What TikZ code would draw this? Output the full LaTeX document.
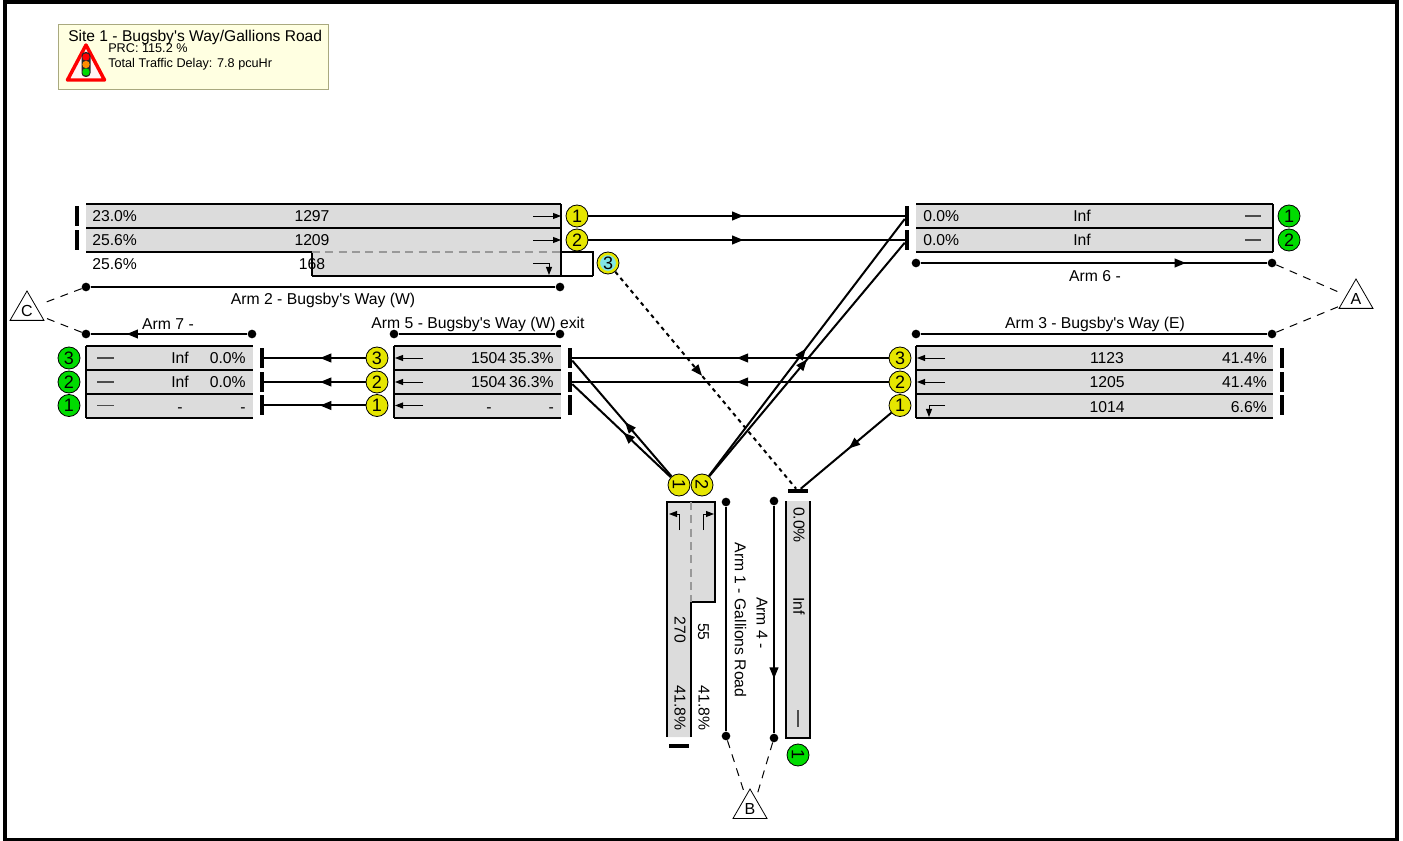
\documentclass[tikz,border=0pt]{standalone}
\usepackage{fontspec}
\setmainfont{Liberation Sans}
\usetikzlibrary{arrows.meta,shapes.geometric,decorations.markings}
\definecolor{lanegray}{HTML}{DCDCDC}
\definecolor{sigyellow}{HTML}{E6E600}
\definecolor{siggreen}{HTML}{00DC00}
\definecolor{sigcyan}{HTML}{80E6E6}
\definecolor{infofill}{HTML}{FFFFE1}
\definecolor{infoedge}{HTML}{A9A97F}
\newcommand{\qt}{\textquotesingle}
\tikzset{
	txt/.style={inner sep=0pt,font=\fontsize{11.8}{12}\selectfont},
	sig/.style={circle,draw=black,line width=.6pt,minimum size=16.5pt,inner sep=0pt,font=\fontsize{13.5}{14}\selectfont},
	sigy/.style={sig,fill=sigyellow},
	sigg/.style={sig,fill=siggreen},
	hbar/.style={fill=black,minimum width=3pt,minimum height=15pt,inner sep=0pt},
	vbar/.style={fill=black,minimum width=15pt,minimum height=3pt,inner sep=0pt},
	dot/.style={circle,fill=black,minimum size=6.5pt,inner sep=0pt},
	armline/.style={line width=1.5pt},
	flow/.style={line width=1.5pt},
	link/.style={line width=.75pt,dash pattern=on 6pt off 5pt},
	tri/.style={regular polygon,regular polygon sides=3,draw=black,line width=.6pt,fill=white,minimum size=29.4pt,inner sep=0pt,font=\fontsize{12}{12}\selectfont},
	lanedge/.style={line width=1.2pt},
	turn/.style={line width=.7pt,-{Triangle[length=6pt,width=4.5pt]}},
	lanedash/.style={line width=.8pt,black!70},
	midarr/.style={postaction={decorate},decoration={markings,mark=at position #1 with {\arrow{Triangle[length=8.5pt,width=6.5pt]}}}}
}
\begin{document}
\begin{tikzpicture}[x=.75pt,y=-.75pt]
	\useasboundingbox (0,0) rectangle (1403,841);
	\draw[line width=3pt] (5,2) rectangle (1396.5,839.5);

	% site box
	\draw[fill=infofill,draw=infoedge,line width=.7pt] (58,24) rectangle (328,89);
	\node[txt,anchor=base west,font=\fontsize{11.7}{12}\selectfont] (title) at (68,41.5) {Site 1 - Bugsby\qt s Way/Gallions Road};
	\node[txt,anchor=base west,font=\fontsize{9.5}{10}\selectfont] (prc) at (108,53) {PRC: 115.2 \%};
	\node[txt,anchor=base west,font=\fontsize{9.5}{10}\selectfont] (delay) at (108,68) {Total Traffic Delay: 7.8 pcuHr};
	\draw[red,line width=2.6pt,line join=round,fill=white!96!red] (86,45) -- (104.5,80) -- (67.5,80) -- cycle;
	\fill[black!85,rounded corners=3pt] (81.5,52) rectangle (90.5,77);
	\fill[red] (86,57) circle (3.7);
	\fill[orange!90!yellow] (86,64.5) circle (3.7);
	\fill[green!85!black] (86,72) circle (3.7);

	% lane fills
	\foreach \xa/\ya/\xb/\yb in {86/204/561/252,312/252/561/276,916/204/1273/252,86/346/253/418,394/346/561/418,916/346/1273/418}
		\fill[lanegray] (\xa,\ya) rectangle (\xb,\yb);
	\foreach \xa/\ya/\xb in {86/204/561,86/228/561,86/252/312,916/204/1273,916/228/1273,916/252/1273,86/346/253,86/370/253,86/394/253,86/418/253,394/346/561,394/370/561,394/394/561,394/418/561,916/346/1273,916/370/1273,916/394/1273,916/418/1273,312/276/593}
		\draw[lanedge] (\xa,\ya) -- (\xb,\ya);
	\draw[line width=.8pt] (312,252) -- (312,276);
	\draw[line width=.8pt] (561,252) -- (593,252) -- (593,276);
	\draw[line width=.8pt] (561,204) -- (561,276);
	\draw[line width=.8pt] (1273,204) -- (1273,252);
	\draw[line width=.8pt] (86,346) -- (86,418);
	\draw[line width=.8pt] (394,346) -- (394,418);
	\draw[line width=.8pt] (916,346) -- (916,418);
	\draw[line width=.8pt,black!40,dash pattern=on 6pt off 4pt] (312,252) -- (561,252);

	% arm 1 and arm 4 lanes
	\fill[lanegray] (667,502) -- (715,502) -- (715,602) -- (691,602) -- (691,737) -- (667,737) -- cycle;
	\draw[lanedge] (667,737) -- (667,502) -- (715,502) -- (715,602) -- (691,602) -- (691,737);
	\draw[line width=.8pt,black!40,dash pattern=on 6pt off 4pt] (691,502) -- (691,602);
	\fill[lanegray] (786,501) rectangle (810,738);
	\draw[lanedge] (786,501) -- (786,738) -- (810,738) -- (810,501);

	% stop lines
	\node[hbar] (b21) at (77,216) {};
	\node[hbar] (b22) at (77,240) {};
	\node[hbar] (b61) at (907,216) {};
	\node[hbar] (b62) at (907,240) {};
	\foreach \n/\y in {3/358,2/382,1/405.5} {
		\node[hbar] (b7\n) at (262,\y) {};
		\node[hbar] (b5\n) at (570,\y) {};
		\node[hbar] (b3\n) at (1282,\y) {};
	}
	\node[vbar] (b11) at (679,746) {};
	\node[vbar] (b41) at (798,491) {};

	% signal numbers
	\node[sigy] (s21) at (577,216) {1};
	\node[sigy] (s22) at (577,240) {2};
	\node[sigy] (s23) at (608,263) {};
	\node[sig,fill=sigcyan,draw=sigyellow,line width=1.5pt,minimum size=13.5pt] (s23c) at (608,263) {3};
	\node[sigg] (s61) at (1289,216) {1};
	\node[sigg] (s62) at (1289,240) {2};
	\foreach \n/\y in {3/358,2/382,1/405.5} {
		\node[sigg] (s7\n) at (69,\y) {\n};
		\node[sigy] (s5\n) at (377,\y) {\n};
		\node[sigy] (s3\n) at (900,\y) {\n};
	}
	\node[sigy,rotate=-90] (s11) at (679,485) {1};
	\node[sigy,rotate=-90] (s12) at (702,485) {2};
	\node[sigg,rotate=-90] (s41) at (798,755) {1};

	% flows
	\draw[flow,midarr=.49] (s21) -- (b61);
	\draw[flow,midarr=.49] (s22) -- (b62);
	\draw[flow,midarr=.48] (s33) -- (b53);
	\draw[flow,midarr=.48] (s32) -- (b52);
	\draw[flow,midarr=.47] (s31) -- (b41);
	\draw[flow,midarr=.45] (s53) -- (b73);
	\draw[flow,midarr=.45] (s52) -- (b72);
	\draw[flow,midarr=.45] (s51) -- (b71);
	\draw[flow,midarr=.47] (s11) -- (b53);
	\draw[flow,midarr=.48] (s11) -- (b52);
	\draw[flow,midarr=.495] (s12) -- (b61);
	\draw[flow,midarr=.5] (s12) -- (b62);
	\draw[flow,dash pattern=on 3pt off 3pt,midarr=.48] (s23) -- (b41);

	% arm lines
	\node[dot] (a2l) at (86,287) {};
	\node[dot] (a2r) at (560,287) {};
	\node[dot] (a7l) at (86,334) {};
	\node[dot] (a7r) at (252,334) {};
	\node[dot] (a5l) at (394,334) {};
	\node[dot] (a5r) at (560,334) {};
	\node[dot] (a3l) at (916,334) {};
	\node[dot] (a3r) at (1272,334) {};
	\node[dot] (a6l) at (916,263) {};
	\node[dot] (a6r) at (1272,263) {};
	\node[dot] (a1t) at (726,502) {};
	\node[dot] (a1b) at (726,736) {};
	\node[dot] (a4t) at (774,501) {};
	\node[dot] (a4b) at (774,738) {};
	\draw[armline] (a2l) -- (a2r);
	\draw[armline,midarr=.77] (a7r) -- (a7l);
	\draw[armline] (a5l) -- (a5r);
	\draw[armline] (a3l) -- (a3r);
	\draw[armline,midarr=.765] (a6l) -- (a6r);
	\draw[armline] (a1t) -- (a1b);
	\draw[armline,midarr=.76] (a4t) -- (a4b);

	% arm names
	\node[txt] (n2) at (323,300) {Arm 2 - Bugsby\qt s Way (W)};
	\node[txt] (n7) at (168,324) {Arm 7 -};
	\node[txt] (n5) at (478,324) {Arm 5 - Bugsby\qt s Way (W) exit};
	\node[txt] (n3) at (1095,324) {Arm 3 - Bugsby\qt s Way (E)};
	\node[txt] (n6) at (1095,276.5) {Arm 6 -};
	\node[txt,rotate=-90] (n1) at (740.5,620) {Arm 1 - Gallions Road};
	\node[txt,rotate=-90] (n4) at (762,623) {Arm 4 -};

	% zones
	\node[tri] (zc) at (27,310.6) {C};
	\node[tri] (za) at (1356,298.6) {A};
	\node[tri] (zb) at (750,808.6) {B};
	\coordinate (zc1) at (41,304);
	\coordinate (zc2) at (43,317);
	\coordinate (za1) at (1343,294);
	\coordinate (za2) at (1340,306);
	\coordinate (zb1) at (745,795);
	\coordinate (zb2) at (757,795);
	\draw[link] (a2l) -- (zc1);
	\draw[link] (a7l) -- (zc2);
	\draw[link] (a6r) -- (za1);
	\draw[link] (a3r) -- (za2);
	\draw[link] (a1b) -- (zb1);
	\draw[link] (a4b) -- (zb2);

	% lane values
	\node[txt,anchor=base west] (v1) at (92,222) {23.0\%};
	\node[txt,anchor=base] (v2) at (312,222) {1297};
	\node[txt,anchor=base west] (v3) at (92,246) {25.6\%};
	\node[txt,anchor=base] (v4) at (312,246) {1209};
	\node[txt,anchor=base west] (v5) at (92,270) {25.6\%};
	\node[txt,anchor=base] (v6) at (312,270) {168};
	\node[txt,anchor=base west] (v7) at (923,222) {0.0\%};
	\node[txt,anchor=base] (v8) at (1082,222) {Inf};
	\node[txt,anchor=base west] (v9) at (923,246) {0.0\%};
	\node[txt,anchor=base] (v10) at (1082,246) {Inf};
	\foreach \n/\y/\w/\p/\q/\r/\s in {3/364/Inf/0.0\%/1504/35.3\%/1123,2/388/Inf/0.0\%/1504/36.3\%/1205} {
		\node[txt,anchor=base] (w\n) at (180,\y) {\w};
		\node[txt,anchor=base east] (x\n) at (246,\y) {\p};
		\node[txt,anchor=base east] (c\n) at (506.5,\y) {\q};
		\node[txt,anchor=base east] (d\n) at (554,\y) {\r};
		\node[txt,anchor=base] (e\n) at (1107,\y) {\s};
	}
	\node[txt,anchor=base east] (f3) at (1267,364) {41.4\%};
	\node[txt,anchor=base east] (f2) at (1267,388) {41.4\%};
	\node[txt,anchor=base] (w1) at (180,412) {-};
	\node[txt,anchor=base east] (x1) at (246,412) {-};
	\node[txt,anchor=base] (c1) at (489,412) {-};
	\node[txt,anchor=base east] (d1) at (554,412) {-};
	\node[txt,anchor=base] (e1) at (1107,412) {1014};
	\node[txt,anchor=base east] (f1) at (1267,412) {6.6\%};
	\node[txt,rotate=-90] (g1) at (680,630) {270};
	\node[txt,rotate=-90] (g2) at (703.5,632) {55};
	\node[txt,rotate=-90] (g3) at (680,708) {41.8\%};
	\node[txt,rotate=-90] (g4) at (704,708) {41.8\%};
	\node[txt,rotate=-90] (g5) at (799,525) {0.0\%};
	\node[txt,rotate=-90] (g6) at (799,606) {Inf};

	% lane arrows
	\draw[turn] (533,216) -- (561,216);
	\draw[turn] (533,240) -- (561,240);
	\draw[turn] (533,263) -- (549,263) -- (549,275);
	\foreach \y in {358,382,405.5} \draw[turn] (423,\y) -- (395,\y);
	\draw[turn] (945,358) -- (917,358);
	\draw[turn] (945,382) -- (917,382);
	\draw[turn] (945,405.5) -- (929,405.5) -- (929,417);
	\draw[turn] (679,530) -- (679,514) -- (669,514);
	\draw[turn] (703,530) -- (703,514) -- (714,514);
	\foreach \y in {358,382,405.5} \draw[lanedash] (97,\y) -- (114,\y);
	\foreach \y in {216,240} \draw[lanedash] (1245,\y) -- (1261,\y);
	\draw[lanedash] (798,710) -- (798,727);
\end{tikzpicture}
\end{document}
